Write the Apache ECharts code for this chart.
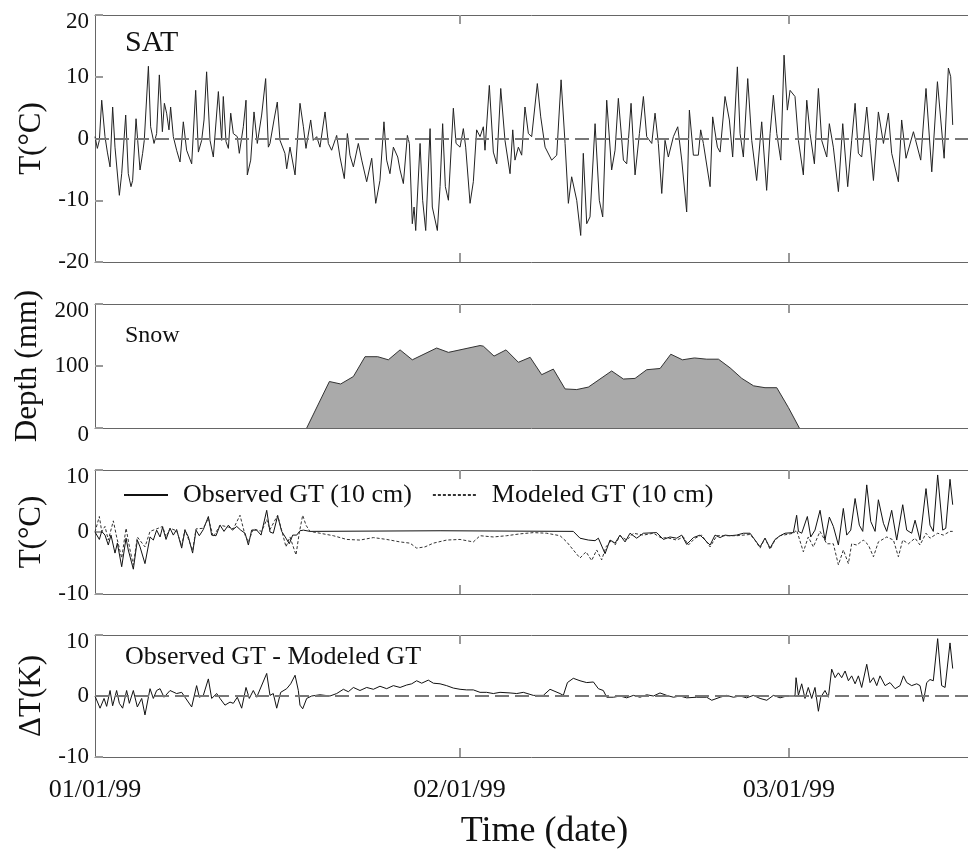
<!DOCTYPE html>
<html>
<head>
<meta charset="utf-8">
<script src="https://cdn.jsdelivr.net/npm/echarts@6/dist/echarts.min.js"></script>
<style>
  html, body { margin: 0; padding: 0; background: #fff; }
  #chart { width: 968px; height: 851px; }
</style>
</head>
<body>
<div id="chart"></div>
<script>
// x values are days since 01/01/99 00:00

// surface air temperature (°C)
const satDays = [0.00,0.20,0.37,0.57,0.85,1.05,1.28,1.50,1.70,2.07,
  2.27,2.61,2.83,3.06,3.20,3.49,3.63,3.83,4.05,4.19,
  4.54,4.73,5.02,5.24,5.47,5.73,5.90,6.09,6.29,6.43,
  6.66,6.94,7.23,7.51,7.79,8.22,8.56,8.79,9.07,9.27,
  9.49,9.78,10.06,10.49,10.77,10.91,11.14,11.34,11.54,11.76,
  12.10,12.27,12.61,12.84,12.95,13.24,13.52,13.80,14.17,14.51,
  14.74,14.88,15.22,15.50,15.73,16.15,16.30,16.58,17.01,17.43,
  17.72,17.94,18.34,18.56,18.85,19.13,19.56,19.84,20.12,20.55,
  20.83,21.20,21.46,21.68,21.97,22.39,22.68,23.10,23.53,23.87,
  24.23,24.57,24.80,25.08,25.37,25.74,25.94,26.22,26.56,26.73,
  26.98,27.13,27.27,27.64,27.86,28.12,28.49,28.68,29.11,29.34,
  29.56,29.79,30.05,30.47,30.70,31.04,31.32,31.52,31.89,32.17,32.45,
  32.74,33.02,33.16,33.53,33.87,34.16,34.50,34.86,35.29,35.52,
  35.71,36.00,36.28,36.56,36.85,37.13,37.61,37.90,38.27,38.83,
  39.26,39.63,39.97,40.25,40.53,40.96,41.30,41.52,41.81,42.09,
  42.52,42.88,43.17,43.51,43.93,44.22,44.50,44.93,45.21,45.58,
  45.92,46.29,46.63,46.91,47.34,47.62,47.90,48.19,48.47,48.75,
  49.18,49.55,49.89,50.31,50.54,50.88,51.30,51.50,51.73,52.30,
  52.52,52.92,53.15,53.57,53.94,54.22,54.62,54.85,55.13,55.50,
  55.84,56.26,56.69,57.11,57.40,57.68,57.97,58.31,58.59,58.87,
  59.10,59.52,59.81,60.23,60.52,60.80,61.17,61.51,61.79,62.22,
  62.44,62.78,63.21,63.58,64.00,64.34,64.63,64.91,65.19,65.62,
  65.90,66.19,66.61,67.04,67.46,67.74,68.31,68.59,68.96,69.59,
  70.21,70.66,71.15,71.63,72.20,72.56,72.76,72.93];
const satVals = [0.3,-1.6,-0.3,6.2,0.3,-2.2,-4.6,5.1,-1.4,-9.2,
  -5.7,3.8,-5.7,-7.8,-6.8,3.2,-0.3,-5.1,-2.4,-0.3,
  11.7,1.9,-0.8,0.8,10.3,1.1,5.7,4.1,1.4,5.1,
  0.3,-1.9,-3.8,2.7,-1.9,-4.1,7.8,-2.2,-0.3,3.0,
  10.8,-0.3,-3.0,7.6,-0.3,6.8,-0.5,-1.6,4.1,0.8,
  0.3,-2.4,1.9,6.2,-5.9,-3.5,4.3,-0.8,3.8,9.7,
  -1.4,-0.8,3.0,5.9,-0.3,-2.4,-4.9,-1.4,-5.9,5.7,
  1.9,-1.6,3.0,-0.3,0.3,-1.4,4.3,-0.8,-1.9,0.5,
  -3.0,-6.5,0.8,-2.7,-4.6,-0.8,-3.5,-7.0,-3.2,-10.5,
  -6.8,2.7,-3.5,-5.7,-1.4,-3.0,-5.1,-7.3,0.5,-0.8,
  -13.8,-11.1,-14.9,-0.8,-10.0,-14.9,1.6,-11.1,-14.9,-7.8,
  2.4,-7.8,-10.0,4.9,-0.8,-1.4,1.6,-1.4,-10.5,-7.0,1.4,
  0.3,1.9,-1.9,8.6,-2.2,-4.1,8.1,-0.3,-5.7,1.4,
  -3.5,-1.4,-2.7,5.1,0.8,0.3,8.9,3.5,-1.4,-3.5,
  -2.7,9.5,-0.8,-10.5,-6.2,-10.0,-15.7,-2.4,-13.8,-12.7,
  2.4,-10.0,-12.7,6.2,-5.1,-1.9,6.5,-3.5,-4.1,5.7,
  -5.9,0.8,6.8,0.3,-0.8,4.1,-0.8,-8.9,-0.3,-3.0,
  0.3,1.9,-3.5,-11.9,4.6,-2.7,-2.7,1.4,-0.8,-7.8,
  3.5,-1.4,-2.2,6.8,3.0,-3.0,11.6,0.8,-3.0,9.7,
  -0.3,-6.8,2.7,-8.4,0.8,7.0,0.8,-3.5,13.5,4.6,
  7.8,6.8,-0.3,-5.9,6.2,0.8,-4.1,8.1,-0.3,-3.0,
  2.4,-1.4,-8.6,2.4,-7.8,-0.3,5.7,-2.4,-3.0,5.1,
  -0.8,-6.8,4.3,-0.8,4.1,-2.4,-7.0,3.0,-3.2,1.1,
  -3.5,8.1,-5.4,9.2,-3.2,11.4,10.0,2.2];

// snow depth (mm)
const snowDays = [18.0,19.93,20.89,21.97,22.96,24.04,24.94,25.94,26.98,29.05,
  30.05,32.74,33.02,33.93,34.95,36.0,37.0,37.98,38.97,39.97,
  40.96,41.95,43.93,44.93,45.92,46.91,48.05,48.96,49.95,50.97,
  52.02,53.01,54.0,55.0,56.0,56.97,57.97,58.96,59.89];
const snowVals = [0,75,71,83,115,115,110,126,110,129,
  122,133,132,116,126,106,114,86,95,63,
  62,66,92,79,80,94,96,119,110,113,
  111,111,97,80,68,65,65,33,0];

// observed ground temperature at 10 cm (°C)
const gtObsDays = [0.00,0.37,0.57,0.85,1.13,1.36,1.70,1.90,2.27,2.64,
  2.83,3.26,3.60,3.83,4.25,4.68,4.96,5.24,5.53,5.75,
  6.04,6.38,6.66,6.94,7.37,7.65,7.94,8.30,8.59,8.87,
  9.21,9.64,9.92,10.29,10.63,10.97,11.34,11.68,12.05,12.39,
  12.76,13.04,13.32,13.75,14.12,14.60,14.88,15.16,15.53,15.87,
  16.24,16.52,16.81,17.15,17.43,17.72,18.28,29.34,40.67,41.24,
  41.95,42.52,42.80,43.37,43.79,44.22,44.64,45.07,45.49,46.06,
  46.63,47.76,48.33,48.89,49.46,49.89,50.31,50.88,51.45,52.30,
  52.72,53.15,53.57,53.99,54.56,55.13,55.70,56.12,56.55,56.97,
  57.40,57.82,58.25,58.67,59.38,59.66,59.81,60.09,60.57,60.86,
  61.22,61.65,62.07,62.44,62.78,63.21,63.63,63.92,64.26,64.63,
  64.99,65.28,65.62,65.96,66.33,66.61,67.04,67.32,67.74,68.17,
  68.68,69.02,69.44,69.73,70.15,70.66,71.00,71.28,71.65,72.08,
  72.34,72.70,72.93];
const gtObsVals = [0.0,-1.2,0.1,-0.5,-2.1,-0.5,-3.4,-1.8,-5.6,-1.0,
  -2.9,-6.0,-1.3,-2.4,-5.1,-0.8,-1.3,0.3,-0.8,0.8,
  -1.2,0.6,-0.5,0.4,-2.6,0.3,-0.8,-3.4,0.3,-0.6,
  0.4,2.5,-0.5,-0.6,1.1,0.1,1.1,0.3,0.9,0.3,
  -0.2,-2.1,0.3,0.3,-0.5,3.5,0.0,-0.2,2.6,0.1,
  -1.0,-1.9,-0.5,-0.5,0.2,0.3,0.1,0.2,0.1,-1.0,
  -1.3,-1.4,-1.0,-3.5,-1.3,-1.8,-0.5,-1.6,-0.2,-1.0,
  -0.2,-0.1,-1.2,-0.8,-1.0,-0.5,-2.0,-0.9,-0.5,-2.1,
  -0.5,-0.9,-0.5,-0.6,-0.5,-0.2,-0.2,-1.3,-2.4,-1.0,
  -2.6,-1.2,-0.6,-0.2,-0.1,2.7,0.1,-0.2,2.5,-0.8,
  0.3,3.5,-1.3,2.4,0.9,-2.1,3.8,-0.5,0.3,5.4,
  1.1,0.1,7.6,1.7,0.1,5.2,1.4,0.1,3.5,-1.3,
  4.4,0.3,-0.2,1.9,-1.3,7.0,1.1,0.1,9.2,0.3,
  0.6,8.5,4.4];

// modeled ground temperature at 10 cm (°C)
const gtModDays = [0.00,0.37,0.57,0.85,1.13,1.56,1.84,2.27,2.64,2.98,
  3.26,3.60,4.25,4.68,5.24,5.75,6.04,6.38,6.94,7.37,
  7.65,8.30,8.59,9.21,9.64,10.06,10.63,11.34,11.76,12.33,
  12.76,13.04,13.46,14.17,14.60,14.88,15.53,15.87,16.24,16.58,
  17.09,17.38,17.66,17.94,18.28,19.13,20.27,21.40,22.53,23.67,
  24.80,25.94,26.79,27.35,28.06,28.77,29.90,31.04,32.17,32.74,
  33.87,35.00,36.14,37.27,38.41,39.54,40.11,40.67,41.24,41.75,
  42.23,42.66,43.08,43.45,43.93,44.22,44.64,45.21,45.78,46.63,
  47.48,48.19,48.61,49.46,50.03,50.45,51.02,51.59,52.30,52.87,
  53.57,54.56,55.70,56.12,56.55,56.97,57.40,57.82,58.25,59.38,
  59.66,60.23,60.65,61.08,61.65,62.22,62.78,63.21,63.63,64.06,
  64.34,64.77,65.33,65.76,66.19,66.61,67.32,67.89,68.31,68.68,
  69.16,69.73,70.15,70.66,71.00,71.65,72.14,72.70,72.93];
const gtModVals = [0.0,2.5,0.1,0.9,-1.3,1.8,-0.8,-4.2,0.6,-2.9,
  -5.3,-0.8,-2.4,0.1,0.5,0.9,-0.8,0.6,0.2,-2.2,
  0.4,-3.0,0.5,0.6,2.2,-0.8,1.1,0.8,0.5,2.7,
  -0.5,-1.6,0.5,0.1,2.0,0.4,2.7,0.3,-2.4,-0.8,
  -3.7,0.0,2.7,1.1,0.1,-0.2,-0.6,-1.2,-1.3,-0.9,
  -1.2,-1.6,-1.8,-2.6,-2.4,-1.8,-1.3,-1.2,-1.6,-0.6,
  -0.8,-0.6,-0.3,-0.1,-0.2,-0.6,-1.6,-2.9,-4.2,-3.2,
  -4.6,-2.9,-4.5,-2.4,-1.3,-2.1,-0.6,-1.3,-0.2,-0.5,
  -0.2,-1.0,-0.9,-1.3,-0.8,-2.1,-1.0,-0.5,-2.4,-0.6,
  -0.6,-0.6,-0.4,-1.3,-2.6,-1.0,-2.8,-1.3,-0.6,-0.2,
  0.3,-3.2,-0.8,-2.4,0.1,-1.9,-1.9,-5.3,-2.9,-5.1,
  -1.9,-2.1,-1.3,-2.1,-4.0,-1.6,-0.8,-1.3,-4.0,-1.3,
  -1.9,-1.0,-2.1,-0.2,-1.0,-0.2,-0.5,0.1,0.1];

// observed minus modeled (K)
const dtDays = [0.00,0.43,0.77,0.99,1.28,1.50,1.84,2.07,2.35,2.69,
  2.92,3.26,3.60,3.97,4.25,4.68,4.96,5.24,5.53,5.87,
  6.38,6.94,7.37,7.65,8.22,8.64,8.87,9.21,9.64,9.92,
  10.35,10.63,11.05,11.48,11.76,12.10,12.47,12.84,13.12,13.46,
  13.75,14.60,14.88,15.16,15.45,15.79,16.30,16.64,17.01,17.29,
  17.43,17.66,18.00,18.42,19.13,19.98,20.55,21.12,21.54,21.97,
  22.53,23.10,23.67,24.23,24.80,25.37,25.94,26.50,26.93,27.35,
  27.78,28.34,28.77,29.34,29.90,30.47,31.04,31.60,32.17,32.74,
  33.30,33.87,34.44,35.29,35.86,36.42,37.27,38.12,38.69,39.54,
  39.82,40.17,40.67,41.24,41.81,42.38,42.80,43.22,43.51,44.08,
  44.64,45.21,45.78,46.34,46.91,47.48,48.04,48.61,49.18,49.74,
  50.31,51.16,52.01,52.44,53.15,53.71,54.28,54.85,55.41,55.98,
  56.55,57.12,57.68,58.25,58.82,59.52,59.61,59.81,60.09,60.37,
  60.65,60.94,61.22,61.51,61.71,62.07,62.36,62.64,62.93,63.21,
  63.49,63.78,64.06,64.34,64.63,64.91,65.19,65.62,65.90,66.19,
  66.47,66.75,67.18,67.60,68.03,68.45,68.74,69.02,69.44,69.87,
  70.15,70.44,70.72,71.00,71.28,71.65,71.99,72.28,72.70,72.93];
const dtVals = [0.0,-2.0,-0.4,-1.7,0.9,-1.6,0.9,-1.2,-2.0,0.9,
  -1.2,0.9,-1.8,-0.4,-3.1,1.2,-0.4,0.9,1.2,-0.2,
  0.9,0.4,0.6,-0.2,-1.8,1.7,-0.2,0.1,2.8,-0.4,
  0.4,-0.4,-1.5,-1.0,-1.2,-0.2,-2.0,1.4,-0.4,0.9,
  -0.2,3.7,0.1,0.4,-2.0,0.6,1.2,2.0,3.4,0.9,
  -1.5,-2.1,-0.4,0.0,0.2,0.0,0.4,1.1,0.7,1.4,
  0.9,1.4,1.1,1.6,1.2,1.7,1.4,1.8,2.0,2.5,
  2.1,2.6,2.1,2.0,1.7,1.3,1.1,1.0,1.0,0.6,
  0.6,0.4,0.6,0.5,0.4,0.6,0.1,0.1,1.1,0.4,
  0.1,2.2,2.9,2.5,2.2,2.3,1.2,0.9,-0.2,-0.2,
  0.0,-0.3,0.1,-0.2,0.2,0.0,0.5,0.1,-0.2,0.0,
  -0.3,-0.2,-0.2,-0.7,-0.2,0.1,-0.2,0.0,-0.3,0.1,
  -0.4,-0.7,0.1,-0.3,0.0,0.0,3.0,0.1,2.0,-0.4,
  1.4,-0.4,1.4,-2.5,-0.2,0.9,-0.2,4.4,3.0,3.8,
  3.0,4.1,2.5,3.3,2.0,3.3,1.4,5.2,2.2,3.0,
  1.7,3.3,1.7,2.2,1.2,1.7,3.3,2.2,1.7,2.0,
  1.7,-0.9,2.2,2.7,2.5,9.4,1.7,1.4,8.7,4.5];

// date axis ticks
const dateTicks = [0, 31, 59];
const dateLabels = ['01/01/99', '02/01/99', '03/01/99'];

const FONT = '"Liberation Serif", "DejaVu Serif", serif';
const X_MAX = 74.23;

// panel layout
const panels = [
  { top: 15,  height: 247, min: -20, max: 20,  interval: 10,  name: 'T(°C)' },
  { top: 304, height: 124, min: 0,   max: 200, interval: 100, name: 'Depth (mm)' },
  { top: 470, height: 124, min: -10, max: 10,  interval: 10,  name: 'T(°C)' },
  { top: 635, height: 125, min: -10, max: 10,  interval: 10,  name: 'ΔT(K)' }
];

const zip = (xs, ys) => xs.map((x, i) => [x, ys[i]]);

const chart = echarts.init(document.getElementById('chart'));

const frameLine = { show: true, onZero: false, lineStyle: { color: '#666', width: 1 } };
const tickStyle = { color: '#999', width: 2 };

const xBottom = panels.map((p, i) => ({
  type: 'value',
  gridIndex: i,
  position: 'bottom',
  min: 0,
  max: X_MAX,
  axisLine: frameLine,
  axisTick: { show: true, inside: true, length: 9, customValues: [31, 59], lineStyle: tickStyle },
  axisLabel: {
    show: i === 3,
    customValues: dateTicks,
    formatter: v => dateLabels[dateTicks.indexOf(Math.round(v))] || '',
    fontFamily: FONT,
    fontSize: 26,
    color: '#111',
    margin: 20
  },
  splitLine: { show: false },
  name: i === 3 ? 'Time (date)' : '',
  nameLocation: 'middle',
  nameGap: 57,
  nameTextStyle: { fontFamily: FONT, fontSize: 36, color: '#111', padding: [0, 0, 0, 26] }
}));

const xTop = panels.map((p, i) => ({
  type: 'value',
  gridIndex: i,
  position: 'top',
  min: 0,
  max: X_MAX,
  axisLine: frameLine,
  axisTick: { show: true, inside: true, length: 9, customValues: [31, 59], lineStyle: tickStyle },
  axisLabel: { show: false },
  splitLine: { show: false }
}));

const yAxes = panels.map((p, i) => ({
  type: 'value',
  gridIndex: i,
  min: p.min,
  max: p.max,
  interval: p.interval,
  axisLine: frameLine,
  axisTick: { show: true, inside: true, length: 8, lineStyle: tickStyle },
  axisLabel: {
    fontFamily: FONT,
    fontSize: 23,
    color: '#111',
    margin: 6,
    showMinLabel: true,
    showMaxLabel: true,
    // the top label sits a little lower than its tick
    formatter: v => (v === p.max || (i === 1 && v === 0)) ? '{low|' + v + '}' : String(v),
    rich: { low: { fontFamily: FONT, fontSize: 23, color: '#111', padding: [14, 0, 0, 0] } }
  },
  splitLine: { show: false },
  name: p.name,
  nameLocation: 'middle',
  nameGap: 43,
  nameTextStyle: { fontFamily: FONT, fontSize: 31, color: '#111' }
}));

const zeroLine = {
  silent: true,
  symbol: 'none',
  label: { show: false },
  lineStyle: { color: '#777', type: [14, 6], width: 2 },
  data: [{ yAxis: 0 }]
};

const titleStyle = size => ({ fontFamily: FONT, fontSize: size, fontWeight: 'normal', color: '#111' });

chart.setOption({
  animation: false,
  backgroundColor: '#fff',
  title: [
    { text: 'SAT', left: 125, top: 28, padding: 0, textStyle: titleStyle(30) },
    { text: 'Snow', left: 125, top: 324, padding: 0, textStyle: titleStyle(24) },
    { text: 'Observed GT - Modeled GT', left: 125, top: 644, padding: 0, textStyle: titleStyle(26) }
  ],
  legend: {
    data: ['Observed GT (10 cm)', 'Modeled GT (10 cm)'],
    left: 123,
    top: 482,
    padding: 0,
    itemWidth: 44,
    itemHeight: 12,
    itemGap: 20,
    itemStyle: { opacity: 0 },
    textStyle: { fontFamily: FONT, fontSize: 26, color: '#111', padding: [0, 0, 0, 10] }
  },
  grid: panels.map(p => ({ left: 95, right: 0, top: p.top, height: p.height })),
  xAxis: xBottom.concat(xTop),
  yAxis: yAxes,
  series: [
    {
      name: 'SAT',
      type: 'line',
      xAxisIndex: 0,
      yAxisIndex: 0,
      symbol: 'none',
      data: zip(satDays, satVals),
      lineStyle: { color: '#222', width: 1 },
      markLine: zeroLine
    },
    {
      name: 'Snow',
      type: 'line',
      xAxisIndex: 1,
      yAxisIndex: 1,
      symbol: 'none',
      data: zip(snowDays, snowVals),
      lineStyle: { color: '#333', width: 1 },
      areaStyle: { color: '#aaaaaa', opacity: 1 }
    },
    {
      name: 'Observed GT (10 cm)',
      type: 'line',
      xAxisIndex: 2,
      yAxisIndex: 2,
      symbol: 'none',
      data: zip(gtObsDays, gtObsVals),
      itemStyle: { color: '#111' },
      lineStyle: { color: '#111', width: 1 }
    },
    {
      name: 'Modeled GT (10 cm)',
      type: 'line',
      xAxisIndex: 2,
      yAxisIndex: 2,
      symbol: 'none',
      data: zip(gtModDays, gtModVals),
      itemStyle: { color: '#333' },
      lineStyle: { color: '#333', width: 1, type: [3, 2] }
    },
    {
      name: 'dT',
      type: 'line',
      xAxisIndex: 3,
      yAxisIndex: 3,
      symbol: 'none',
      data: zip(dtDays, dtVals),
      lineStyle: { color: '#111', width: 1 },
      markLine: zeroLine
    }
  ]
});
</script>
</body>
</html>
